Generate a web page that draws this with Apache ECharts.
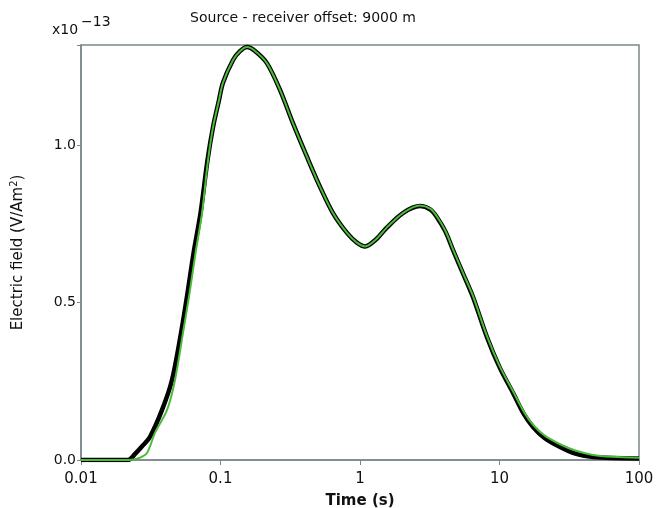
<!DOCTYPE html>
<html>
<head>
<meta charset="utf-8">
<script src="https://cdn.jsdelivr.net/npm/echarts@6/dist/echarts.min.js"></script>
<style>html,body{margin:0;padding:0;background:#fff;}#c{width:665px;height:508px;}</style>
</head>
<body>
<div id="c"></div>
<script>
// Time (s)
const blackTime = [0.01, 0.0217, 0.0245, 0.0280, 0.0312, 0.0381, 0.0449, 0.0521, 0.058, 0.0641, 0.0719, 0.0807, 0.0884, 0.0976, 0.104, 0.123, 0.138, 0.155, 0.175, 0.215, 0.267, 0.33, 0.417, 0.517, 0.64, 0.81, 0.95, 1.09, 1.3, 1.55, 2.03, 2.69, 3.2, 3.56, 4.1, 4.64, 5.5, 6.46, 8.13, 10, 12.5, 15, 17.4, 21, 27.2, 35, 46.8, 65, 100];
// Electric field (x1e-13 V/Am^2)
const blackValues = [0, 0, 0.02, 0.048, 0.073, 0.159, 0.254, 0.403, 0.53, 0.657, 0.784, 0.952, 1.057, 1.143, 1.197, 1.27, 1.298, 1.311, 1.30, 1.26, 1.175, 1.07, 0.962, 0.867, 0.784, 0.72, 0.69, 0.678, 0.70, 0.737, 0.784, 0.806, 0.795, 0.771, 0.725, 0.667, 0.59, 0.517, 0.39, 0.295, 0.213, 0.145, 0.105, 0.07, 0.041, 0.02, 0.0095, 0.006, 0.005];
const greenTime = [0.01, 0.022, 0.026, 0.0297, 0.0339, 0.0414, 0.0472, 0.0538, 0.060, 0.0662, 0.0737, 0.0814, 0.0884, 0.0976, 0.104, 0.123, 0.138, 0.155, 0.175, 0.215, 0.267, 0.33, 0.417, 0.517, 0.64, 0.81, 0.95, 1.09, 1.3, 1.55, 2.03, 2.69, 3.2, 3.56, 4.1, 4.64, 5.5, 6.46, 8.13, 10, 12.5, 15, 17.4, 21, 27.2, 35, 46.8, 65, 100];
const greenValues = [0, 0, 0.006, 0.022, 0.086, 0.159, 0.254, 0.403, 0.53, 0.657, 0.784, 0.952, 1.057, 1.143, 1.197, 1.27, 1.298, 1.311, 1.30, 1.26, 1.175, 1.07, 0.962, 0.867, 0.784, 0.72, 0.69, 0.678, 0.70, 0.737, 0.784, 0.808, 0.797, 0.773, 0.727, 0.669, 0.592, 0.52, 0.393, 0.299, 0.218, 0.152, 0.112, 0.078, 0.05, 0.03, 0.016, 0.01, 0.007];
const xTicks = [0.01, 0.1, 1, 10, 100];
const yTicks = [0, 0.5, 1.0];

const pair = (t, v) => t.map((x, i) => [x, v[i]]);
const chart = echarts.init(document.getElementById('c'), null, {renderer: 'canvas'});
const font = 'DejaVu Sans';
chart.setOption({
  animation: false,
  backgroundColor: '#ffffff',
  textStyle: {fontFamily: font},
  title: {
    text: 'Source - receiver offset: 9000 m',
    left: 298, top: 6, textAlign: 'center',
    textStyle: {fontFamily: font, fontSize: 14, fontWeight: 'normal', color: '#111'}
  },
  graphic: [
    {type: 'text', left: 52, top: 23, style: {text: 'x10', font: '14px "DejaVu Sans"', fill: '#111'}},
    {type: 'text', left: 81, top: 15, style: {text: '\u221213', font: '14px "DejaVu Sans"', fill: '#111'}}
  ],
  grid: {left: 81, right: 26, top: 45, bottom: 48, containLabel: false, outerBoundsMode: 'none',
         show: true, borderColor: '#7c878c', borderWidth: 1.5, backgroundColor: '#fff'},
  xAxis: {
    type: 'log', logBase: 10, min: 0.01, max: 100,
    name: 'Time (s)', nameLocation: 'middle', nameGap: 34,
    nameTextStyle: {fontFamily: font, fontSize: 15, fontWeight: 'bold', color: '#111'},
    axisLine: {lineStyle: {color: '#7c878c', width: 1.5}},
    axisTick: {show: true, length: 5, lineStyle: {color: '#7c878c'}},
    minorTick: {show: false},
    splitLine: {show: false},
    axisLabel: {fontFamily: font, fontSize: 15, color: '#111', margin: 12,
      formatter: v => { const m = xTicks.find(t => Math.abs(t - v) / t < 1e-6); return m === undefined ? '' : String(m); }}
  },
  yAxis: {
    type: 'value', min: 0, max: 1.3175, interval: 0.5,
    name: 'Electric field (V/Am{sup|2})', nameLocation: 'middle', nameGap: 54, nameRotate: 90,
    nameTextStyle: {fontFamily: font, fontSize: 15, color: '#111',
      rich: {sup: {fontSize: 10, verticalAlign: 'top', padding: [0, 0, 8, 0], fontFamily: font, color: '#111'}}},
    axisLine: {show: true, lineStyle: {color: '#7c878c', width: 1.5}},
    axisTick: {show: true, length: 4, lineStyle: {color: '#7c878c'}},
    splitLine: {show: false},
    axisLabel: {fontFamily: font, fontSize: 14, color: '#111', margin: 5,
      formatter: v => { const m = yTicks.find(t => Math.abs(t - v) < 1e-6); return m === undefined ? '' : m.toFixed(1); }}
  },
  series: [
    {type: 'line', data: pair(blackTime, blackValues), showSymbol: false, smooth: 0.3,
     lineStyle: {color: '#000', width: 4.5}, z: 2},
    {type: 'line', data: pair(greenTime, greenValues), showSymbol: false, smooth: 0.3,
     lineStyle: {color: '#4cbb3a', width: 2}, z: 3}
  ]
});
</script>
</body>
</html>
